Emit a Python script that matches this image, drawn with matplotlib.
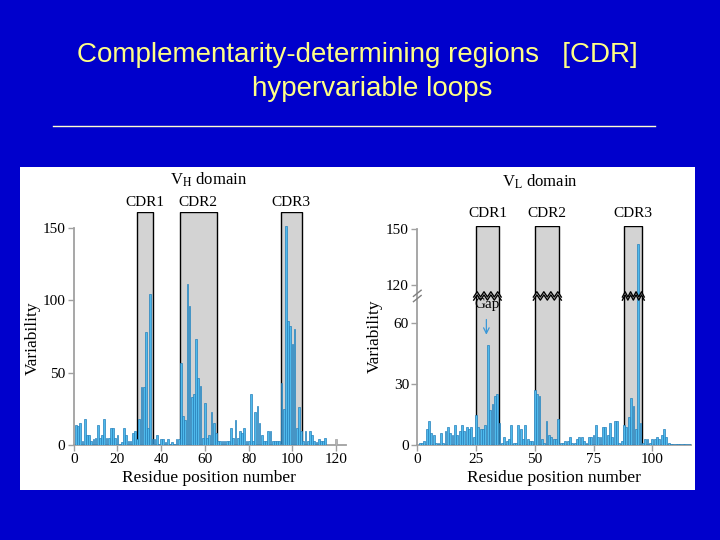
import numpy as np
import matplotlib
matplotlib.use("Agg")
import matplotlib.pyplot as plt
from matplotlib.patches import Rectangle, Polygon
from matplotlib.lines import Line2D

plt.rcParams['mathtext.fontset'] = 'stix'

# ---------------- data ----------------
title_line1 = "Complementarity-determining regions   [CDR]"
title_line2 = "hypervariable loops"

vh_residues = list(range(1, 121))
vh_variability = [
    14, 13, 15, 3, 18, 7, 7, 3, 4, 5,
    14, 5, 7, 18, 5, 5, 12, 12, 5, 7,
    1, 2, 12, 7, 3, 3, 8, 10, 4, 18,
    40, 40, 78, 12, 104, 4, 4, 7, 1, 4,
    4, 2, 4, 1, 2, 1, 4, 4, 57, 20,
    17, 111, 96, 33, 35, 73, 46, 41, 5, 29,
    5, 7, 23, 15, 8, 3, 3, 3, 3, 3,
    3, 12, 5, 17, 5, 10, 8, 12, 3, 3,
    35, 3, 23, 27, 15, 7, 3, 3, 10, 10,
    3, 3, 3, 3, 43, 25, 151, 86, 82, 70,
    80, 12, 26, 10, 3, 10, 3, 10, 7, 3,
    2, 4, 3, 3, 5, 0, 0, 0, 0, 4,
]
vh_gray_residues = [120]
vh_cdr_names = ["CDR1", "CDR2", "CDR3"]
vh_cdr_start = [29.1, 48.7, 94.6]
vh_cdr_end = [36.4, 65.3, 104.2]
vh_xticks = [0, 20, 40, 60, 80, 100, 120]
vh_yticks = [0, 50, 100, 150]

vl_residues = list(range(1, 117))
vl_variability = [
    1, 1, 2, 8, 12, 6, 5, 1, 1, 6,
    1, 7, 9, 6, 5, 10, 5, 7, 10, 7,
    9, 8, 9, 4, 15, 9, 8, 8, 10, 49,
    17, 20, 24, 25, 11, 1, 4, 2, 3, 10,
    1, 1, 10, 8, 3, 10, 3, 2, 2, 27,
    25, 24, 3, 1, 12, 5, 4, 3, 3, 13,
    1, 1, 2, 2, 4, 1, 1, 3, 4, 4,
    2, 1, 4, 4, 5, 10, 4, 4, 9, 9,
    5, 11, 4, 12, 12, 1, 2, 10, 9, 14,
    23, 19, 8, 142, 11, 1, 3, 3, 1, 3,
    3, 4, 3, 5, 8, 4, 1, 0.5, 0.5, 0.5,
    0.5, 0.5, 0.5, 0.5, 0.5, 0.5,
]
vl_cdr_names = ["CDR1", "CDR2", "CDR3"]
vl_cdr_start = [24.8, 50.2, 88.1]
vl_cdr_end = [34.9, 60.5, 95.8]
vl_xticks = [0, 25, 50, 75, 100]
vl_yticks = [0, 30, 60, 120, 150]
vl_gap_residue = 29.8

# ---------------- style ----------------
BG = '#0000cc'
YELLOW = '#ffff85'
BAR_FACE = '#4fbaec'
BAR_EDGE = '#2680bb'
BOX_FACE = '#d3d3d3'
AXIS_GRAY = '#a0a0a0'
SERIF = 'Liberation Serif'

fig = plt.figure(figsize=(7.2, 5.4), dpi=100, facecolor=BG)
W, H = 720.0, 540.0


def fx(px):
    return px / W


def fy(py):
    return 1 - py / H


fig.text(fx(357), fy(55), title_line1, ha='center', va='center',
         fontsize=20, color=YELLOW, family='Liberation Sans')
fig.text(fx(372), fy(89), title_line2, ha='center', va='center',
         fontsize=20, color=YELLOW, family='Liberation Sans')
fig.add_artist(Line2D([fx(53), fx(655)], [fy(126), fy(126)],
                      color='#ffffd0', lw=1.0, transform=fig.transFigure))
fig.add_artist(Rectangle((fx(20), fy(490)), 675 / W, 323 / H,
                         facecolor='white', edgecolor='none',
                         transform=fig.transFigure, zorder=-5))


def style_axes(ax):
    ax.set_facecolor('none')
    for s in ['top', 'right']:
        ax.spines[s].set_visible(False)
    for s in ['left', 'bottom']:
        ax.spines[s].set_color(AXIS_GRAY)
        ax.spines[s].set_linewidth(1.3)
    ax.tick_params(axis='both', direction='out', length=4, width=1.0,
                   color=AXIS_GRAY, labelsize=11, pad=2)
    for lab in ax.get_xticklabels() + ax.get_yticklabels():
        lab.set_family(SERIF)


# ---------------- VH panel ----------------
vh_top = 161.0
ax1 = fig.add_axes([fx(73.7), fy(445), (346 - 73.7) / W, (445 - 212) / H])
ax1.set_xlim(0, 124.5)
ax1.set_ylim(0, vh_top)
for s, e in zip(vh_cdr_start, vh_cdr_end):
    ax1.add_patch(Rectangle((s, 0), e - s, vh_top, facecolor=BOX_FACE,
                            edgecolor='black', lw=1.0, zorder=1))
vh_colors = ['#b5b5b5' if r in vh_gray_residues else BAR_FACE for r in vh_residues]
vh_edges = ['#a0a0a0' if r in vh_gray_residues else BAR_EDGE for r in vh_residues]
ax1.bar(vh_residues, vh_variability, width=0.8, color=vh_colors,
        edgecolor=vh_edges, linewidth=0.5, zorder=3)
ax1.set_xticks(vh_xticks)
ax1.set_yticks(vh_yticks)
ax1.spines['left'].set_bounds(0, 150)
style_axes(ax1)
ax1.set_xlabel("Residue position number", family=SERIF, fontsize=12.5)
ax1.set_ylabel("Variability", family=SERIF, fontsize=12.5)
ax1.xaxis.set_label_coords(0.497, -0.142)
ax1.xaxis.label.set_va('center')
ax1.yaxis.set_label_coords(-0.15, 0.46)
ax1.yaxis.label.set_va('center')
tr1 = ax1.get_xaxis_transform()
for name, s, e in zip(vh_cdr_names, vh_cdr_start, vh_cdr_end):
    ax1.text((s + e) / 2, 1.040, name, transform=tr1, ha='center', va='center',
             family=SERIF, fontsize=11)
ax1.text(61.6, 1.137, r'V$_{\mathrm{H}}$ domain', transform=tr1, ha='center',
         va='center', family=SERIF, fontsize=12)

# ---------------- VL panel (broken axis) ----------------
LO, HI, K = 73.4, 114.4, 0.9197


def fwd(y):
    y = np.asarray(y, dtype=float)
    return np.where(y <= LO, y, np.where(y >= HI, LO + (y - HI) * K, LO))


def inv(t):
    t = np.asarray(t, dtype=float)
    return np.where(t <= LO, t, HI + (t - LO) / K)


vl_top = 152.0
ax2 = fig.add_axes([fx(417.3), fy(445), (691 - 417.3) / W, (445 - 225.7) / H])
ax2.set_yscale('function', functions=(fwd, inv))
ax2.set_xlim(0, 116.5)
ax2.set_ylim(0, vl_top)
for s, e in zip(vl_cdr_start, vl_cdr_end):
    ax2.add_patch(Rectangle((s, 0), e - s, vl_top, facecolor=BOX_FACE,
                            edgecolor='black', lw=1.0, zorder=1))
ax2.bar(vl_residues, vl_variability, width=0.8, color=BAR_FACE,
        edgecolor=BAR_EDGE, linewidth=0.5, zorder=3)
ax2.set_xticks(vl_xticks)
ax2.set_yticks(vl_yticks)
ax2.set_yticklabels([str(v) for v in vl_yticks])
ax2.yaxis.set_minor_locator(matplotlib.ticker.NullLocator())
ax2.spines['left'].set_bounds(0, 150)
style_axes(ax2)
ax2.set_xlabel("Residue position number", family=SERIF, fontsize=12.5)
ax2.set_ylabel("Variability", family=SERIF, fontsize=12.5)
ax2.xaxis.set_label_coords(0.499, -0.150)
ax2.xaxis.label.set_va('center')
ax2.yaxis.set_label_coords(-0.155, 0.494)
ax2.yaxis.label.set_va('center')
tr2 = ax2.get_xaxis_transform()
t_top = float(fwd(vl_top))
yb = LO / t_top  # break position in axes fraction
amp = 0.012
gap = 0.014
for s, e in zip(vl_cdr_start, vl_cdr_end):
    xs = np.linspace(s - 0.8, e + 0.8, 9)
    zz = np.array([amp if i % 2 else -amp for i in range(len(xs))])
    upper = yb + gap / 2 + zz
    lower = yb - gap / 2 + zz
    poly = np.vstack([np.column_stack([xs, upper]),
                      np.column_stack([xs[::-1], lower[::-1]])])
    ax2.add_patch(Polygon(poly, closed=True, facecolor='white', edgecolor='none',
                          transform=tr2, zorder=4, clip_on=False))
    ax2.plot(xs, upper, color='black', lw=1.0, transform=tr2, zorder=5, clip_on=False)
    ax2.plot(xs, lower, color='black', lw=1.0, transform=tr2, zorder=5, clip_on=False)
# axis break marks
for dy in (-0.012, 0.012):
    ax2.plot([-0.014, 0.014], [yb + dy - 0.014, yb + dy + 0.014], color='#808080',
             lw=1.0, transform=ax2.transAxes, clip_on=False, zorder=6)
ax2.text(vl_gap_residue, 0.64, 'Gap', transform=tr2, ha='center', va='center',
         family=SERIF, fontsize=11, zorder=6)
ax2.annotate('', xy=(vl_gap_residue - 0.4, 0.49), xytext=(vl_gap_residue - 0.4, 0.585),
             xycoords=tr2, textcoords=tr2,
             arrowprops=dict(arrowstyle='->', color='#3a98d8', lw=0.9))
for name, s, e in zip(vl_cdr_names, vl_cdr_start, vl_cdr_end):
    ax2.text((s + e) / 2, 1.055, name, transform=tr2, ha='center', va='center',
             family=SERIF, fontsize=11)
ax2.text(52.2, 1.20, r'V$_{\mathrm{L}}$ domain', transform=tr2, ha='center',
         va='center', family=SERIF, fontsize=12)

fig.savefig('out.png', dpi=100, facecolor=BG)
